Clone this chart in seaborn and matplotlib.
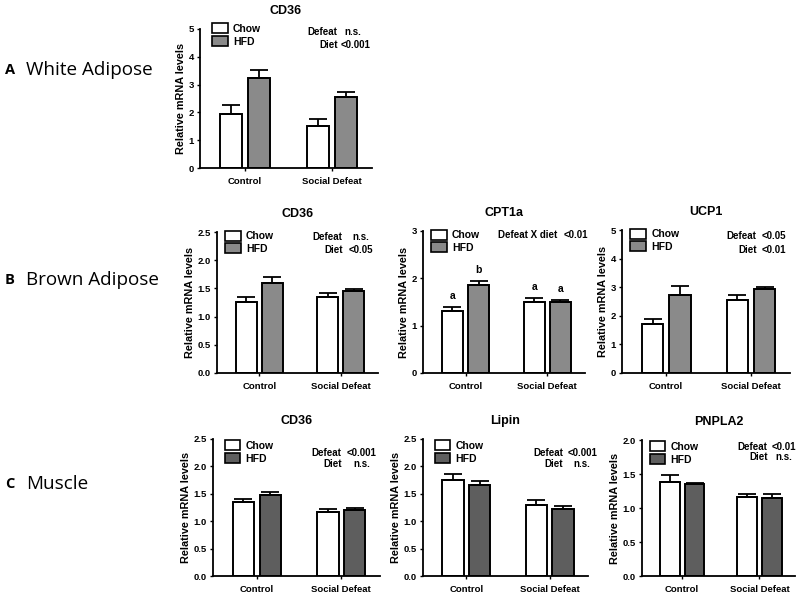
# Gene expression panels: white adipose, brown adipose, muscle

import pandas as pd
import seaborn as sns
import matplotlib.pyplot as plt
from matplotlib.patches import Patch

groups = ['Control', 'Social Defeat']
diets = ['Chow', 'HFD']

# values ordered: Control-Chow, Control-HFD, Defeat-Chow, Defeat-HFD
wat_cd36 = [1.95, 3.22, 1.50, 2.55]
wat_cd36_err = [0.30, 0.30, 0.25, 0.20]

bat_cd36 = [1.26, 1.60, 1.35, 1.45]
bat_cd36_err = [0.08, 0.10, 0.07, 0.04]
bat_cpt1a = [1.32, 1.85, 1.50, 1.50]
bat_cpt1a_err = [0.08, 0.10, 0.09, 0.04]
bat_cpt1a_letters = ['a', 'b', 'a', 'a']
bat_ucp1 = [1.70, 2.72, 2.55, 2.92]
bat_ucp1_err = [0.20, 0.32, 0.18, 0.10]

mus_cd36 = [1.35, 1.47, 1.17, 1.20]
mus_cd36_err = [0.05, 0.06, 0.05, 0.05]
mus_lipin = [1.76, 1.66, 1.29, 1.22]
mus_lipin_err = [0.10, 0.07, 0.09, 0.05]
mus_pnpla2 = [1.38, 1.35, 1.16, 1.15]
mus_pnpla2_err = [0.10, 0.02, 0.05, 0.06]

W, H = 797, 594
fig = plt.figure(figsize=(W / 100, H / 100), dpi=100)
plt.rcParams['font.family'] = ['Liberation Sans', 'DejaVu Sans']


def add_axes_px(left, top, right, bottom):
    return fig.add_axes([left / W, 1 - bottom / H, (right - left) / W, (bottom - top) / H])


def panel(box, title, means, errs, ylim, yticks, fmt, hfd_color, stats,
          leg_xy, letters=None):
    ax = add_axes_px(*box)
    df = pd.DataFrame({'Group': [g for g in groups for _ in diets],
                       'Diet': diets * len(groups),
                       'mean': means})
    sns.barplot(data=df, x='Group', y='mean', hue='Diet', order=groups,
                hue_order=diets, palette={'Chow': 'white', 'HFD': hfd_color},
                edgecolor='black', linewidth=1.4, width=0.64, gap=0.2,
                legend=False, ax=ax)
    # one-sided error bars, taken from the drawn bars
    bar_sets = list(ax.containers)
    for h, cont in enumerate(bar_sets):
        for g, bar in enumerate(cont):
            i = g * len(diets) + h
            xc = bar.get_x() + bar.get_width() / 2
            ax.errorbar(xc, means[i], yerr=[[0], [errs[i]]], fmt='none',
                        ecolor='black', elinewidth=1.3, capsize=6.5, capthick=1.3,
                        zorder=1)
            if letters:
                ax.text(xc, means[i] + errs[i] + 0.04 * ylim[1], letters[i],
                        ha='center', va='bottom', fontsize=7.5, fontweight='bold')
    ax.set_xlim(-0.52, 1.46)
    ax.set_ylim(*ylim)
    ax.set_yticks(yticks)
    ax.set_yticklabels([fmt.format(t) for t in yticks])
    ax.set_xlabel('')
    ax.set_ylabel('Relative mRNA levels', fontsize=7.8, fontweight='bold', labelpad=2)
    ax.set_title(title, fontsize=9, fontweight='bold', pad=11)
    ax.tick_params(axis='both', labelsize=6.8, length=2.5, width=1, pad=2)
    ax.tick_params(axis='x', pad=4)
    for lab in ax.get_yticklabels() + ax.get_xticklabels():
        lab.set_fontweight('bold')
    ax.spines['top'].set_visible(False)
    ax.spines['right'].set_visible(False)
    ax.spines['left'].set_linewidth(1.3)
    ax.spines['bottom'].set_linewidth(1.3)

    handles = [Patch(facecolor='white', edgecolor='black', linewidth=1.2, label='Chow'),
               Patch(facecolor=hfd_color, edgecolor='black', linewidth=1.2, label='HFD')]
    ax.legend(handles=handles, loc='upper left', bbox_to_anchor=leg_xy,
              frameon=False, prop={'size': 7.5, 'weight': 'bold'},
              handlelength=1.5, handleheight=1.1, labelspacing=0.2,
              handletextpad=0.5, borderaxespad=0, borderpad=0)

    # statistics text (label column / value column)
    for (lab, val, xr, xl, y) in stats:
        ax.text(xr, y, lab, ha='right', va='center', fontsize=7,
                fontweight='bold', transform=ax.transAxes)
        ax.text(xl, y, val, ha='left', va='center', fontsize=7,
                fontweight='bold', transform=ax.transAxes)
    return ax


light = '#8a8a8a'
dark = '#5e5e5e'

# A: white adipose
panel((200, 29, 372, 168), 'CD36', wat_cd36, wat_cd36_err, (0, 5), [0, 1, 2, 3, 4, 5],
      '{:.0f}', light,
      [('Defeat', 'n.s.', 0.80, 0.84, 0.98), ('Diet', '<0.001', 0.80, 0.82, 0.885)],
      (0.07, 1.04))

# B: brown adipose
panel((217, 232, 378, 373), 'CD36', bat_cd36, bat_cd36_err, (0, 2.5),
      [0, 0.5, 1.0, 1.5, 2.0, 2.5], '{:.1f}', light,
      [('Defeat', 'n.s.', 0.78, 0.84, 0.965), ('Diet', '<0.05', 0.78, 0.82, 0.87)],
      (0.05, 1.01))
panel((423, 231, 585, 373), 'CPT1a', bat_cpt1a, bat_cpt1a_err, (0, 3), [0, 1, 2, 3],
      '{:.0f}', light,
      [('Defeat X diet', '<0.01', 0.83, 0.865, 0.97)],
      (0.05, 1.01), letters=bat_cpt1a_letters)
panel((622, 230, 790, 373), 'UCP1', bat_ucp1, bat_ucp1_err, (0, 5), [0, 1, 2, 3, 4, 5],
      '{:.0f}', light,
      [('Defeat', '<0.05', 0.80, 0.83, 0.96), ('Diet', '<0.01', 0.80, 0.83, 0.86)],
      (0.05, 1.01))

# C: muscle
panel((213, 439, 380, 576), 'CD36', mus_cd36, mus_cd36_err, (0, 2.5),
      [0, 0.5, 1.0, 1.5, 2.0, 2.5], '{:.1f}', dark,
      [('Defeat', '<0.001', 0.77, 0.80, 0.90), ('Diet', 'n.s.', 0.77, 0.84, 0.82)],
      (0.07, 0.99))
panel((423, 439, 588, 576), 'Lipin', mus_lipin, mus_lipin_err, (0, 2.5),
      [0, 0.5, 1.0, 1.5, 2.0, 2.5], '{:.1f}', dark,
      [('Defeat', '<0.001', 0.85, 0.875, 0.90), ('Diet', 'n.s.', 0.85, 0.91, 0.82)],
      (0.07, 0.99))
panel((642, 440, 795, 576), 'PNPLA2', mus_pnpla2, mus_pnpla2_err, (0, 2.0),
      [0, 0.5, 1.0, 1.5, 2.0], '{:.1f}', dark,
      [('Defeat', '<0.01', 0.82, 0.85, 0.95), ('Diet', 'n.s.', 0.82, 0.87, 0.875)],
      (0.05, 0.99))

# row labels
for letter, name, y in [('A', 'White Adipose', 70), ('B', 'Brown Adipose', 280),
                        ('C', 'Muscle', 484)]:
    fig.text(5 / W, 1 - y / H, letter, ha='left', va='center', fontsize=10.5,
             fontweight='bold', family=['Open Sans', 'DejaVu Sans'])
    fig.text(26 / W, 1 - y / H, name, ha='left', va='center', fontsize=13.6,
             family=['Open Sans', 'DejaVu Sans'])

fig.savefig('out.png', dpi=100)
